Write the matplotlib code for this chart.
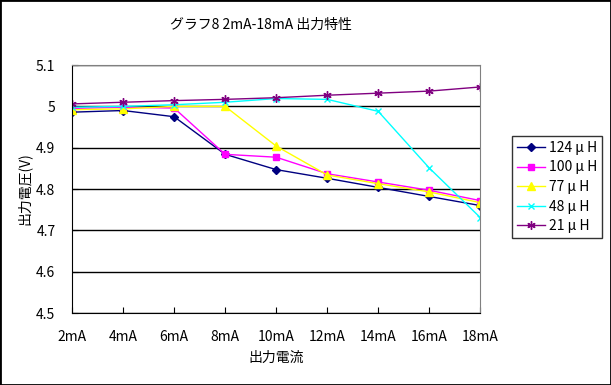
import matplotlib
matplotlib.use("Agg")
import matplotlib.pyplot as plt
from matplotlib.patches import Rectangle

plt.rcParams['font.family'] = ['Noto Sans CJK JP', 'DejaVu Sans']

categories = ["2mA", "4mA", "6mA", "8mA", "10mA", "12mA", "14mA", "16mA", "18mA"]
labels = ["124 μ H", "100 μ H", "77 μ H", "48 μ H", "21 μ H"]
v124 = [4.986, 4.990, 4.975, 4.884, 4.847, 4.826, 4.804, 4.782, 4.760]
v100 = [4.995, 4.998, 4.996, 4.884, 4.877, 4.837, 4.817, 4.797, 4.772]
v77 = [4.992, 4.994, 5.000, 5.000, 4.904, 4.834, 4.813, 4.793, 4.767]
v48 = [4.998, 5.000, 5.004, 5.010, 5.019, 5.017, 4.988, 4.851, 4.731]
v21 = [5.006, 5.010, 5.014, 5.017, 5.021, 5.027, 5.032, 5.037, 5.047]

series = [v124, v100, v77, v48, v21]
colors = ["#000080", "#FF00FF", "#FFFF00", "#00FFFF", "#800080"]
markers = ["D", "s", "^", "x", (6, 2, 0)]
msizes = [4, 5, 6, 5, 6]

fig = plt.figure(figsize=(6.11, 3.85), dpi=100)
fig.patches.append(Rectangle((0, 0), 1, 1, transform=fig.transFigure,
                             fill=False, edgecolor="black", linewidth=2))
ax = fig.add_axes([0.118, 0.187, 0.668, 0.644])

x = list(range(len(categories)))
for vals, c, m, ms, lab in zip(series, colors, markers, msizes, labels):
    ax.plot(x, vals, color=c, marker=m, markersize=ms, linewidth=1,
            markeredgewidth=1, label=lab)

ax.set_xlim(0, len(categories) - 1)
ax.set_ylim(4.5, 5.1)
ax.set_yticks([4.5, 4.6, 4.7, 4.8, 4.9, 5.0, 5.1])
ax.set_yticklabels(["4.5", "4.6", "4.7", "4.8", "4.9", "5", "5.1"])
ax.set_xticks(x)
ax.set_xticklabels(categories)
ax.yaxis.grid(True, color="black", linewidth=1)
ax.set_axisbelow(True)
ax.tick_params(axis="both", direction="in", length=4, labelsize=10)
ax.tick_params(axis="x", pad=12)
ax.tick_params(axis="y", pad=12)
for s in ["top", "right"]:
    ax.spines[s].set_color("#808080")
for s in ["left", "bottom"]:
    ax.spines[s].set_color("black")

ax.set_xlabel("出力電流", fontsize=10)
ax.xaxis.set_label_coords(0.5, -(358 - 313) / 248, transform=ax.transAxes)
ax.xaxis.label.set_va("center")
ax.set_ylabel("出力電圧(V)", fontsize=10)
ax.yaxis.set_label_coords(-(72 - 24) / 408, 0.5, transform=ax.transAxes)
ax.yaxis.label.set_va("center")
fig.text(261 / 611, 1 - 25 / 385, "グラフ8 2mA-18mA 出力特性", ha="center",
         va="center", fontsize=10)

leg = ax.legend(loc="upper left", bbox_to_anchor=(512 / 611, 1 - 136 / 385),
                bbox_transform=fig.transFigure, fontsize=10,
                frameon=True, fancybox=False, edgecolor="black",
                handlelength=2.0, handletextpad=0.3, labelspacing=0.4,
                borderpad=0.35, borderaxespad=0)
leg.get_frame().set_linewidth(1)

fig.savefig("out.png", dpi=100)
